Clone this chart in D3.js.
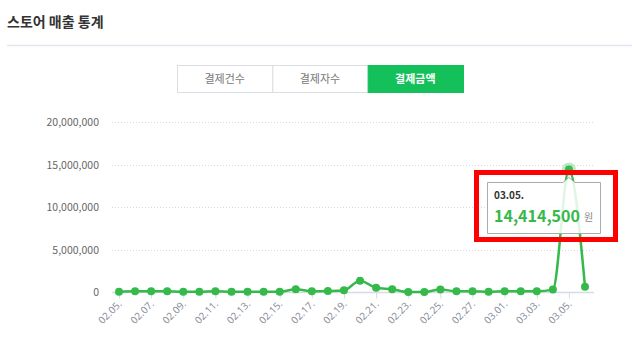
<!DOCTYPE html>
<html>
<head>
<meta charset="utf-8">
<script src="https://cdn.jsdelivr.net/npm/d3@7"></script>
<style>
  body { margin: 0; background: #fff; }
  svg { display: block; font-family: "Noto Sans CJK KR", "Noto Sans", sans-serif; }
</style>
</head>
<body>
<div id="chart"></div>
<script>
// data
var dates = ["02.05.","02.06.","02.07.","02.08.","02.09.","02.10.","02.11.","02.12.","02.13.","02.14.",
             "02.15.","02.16.","02.17.","02.18.","02.19.","02.20.","02.21.","02.22.","02.23.","02.24.",
             "02.25.","02.26.","02.27.","02.28.","03.01.","03.02.","03.03.","03.04.","03.05.","03.06."];
var amounts = [40000, 80000, 100000, 80000, 20000, 20000, 80000, 20000, 20000, 20000,
               20000, 320000, 80000, 110000, 200000, 1330000, 500000, 320000, 0, 10000,
               300000, 80000, 80000, 30000, 80000, 80000, 80000, 280000, 14414500, 620000];
var yTicks = [0, 5000000, 10000000, 15000000, 20000000];
var tabs = ["결제건수", "결제자수", "결제금액"];
var activeTab = 2;
var highlight = 28;

var W = 632, H = 352;
var green = "#35b94a";

var svg = d3.select("#chart").append("svg")
    .attr("width", W).attr("height", H);

// header
svg.append("text")
    .attr("x", 7).attr("y", 27)
    .attr("font-size", 14).attr("font-weight", "bold")
    .attr("fill", "#333")
    .text("스토어 매출 통계");
svg.append("line")
    .attr("x1", 7).attr("x2", W).attr("y1", 45.5).attr("y2", 45.5)
    .attr("stroke", "#e6e7ee").attr("stroke-width", 1.5);

// tab buttons
var tabX = d3.scaleBand().domain(tabs).range([177, 463]);
var tab = svg.append("g").selectAll("g")
    .data(tabs).enter().append("g");
tab.append("rect")
    .attr("x", function(d) { return tabX(d) + 0.5; })
    .attr("y", 65.5)
    .attr("width", tabX.bandwidth())
    .attr("height", 27)
    .attr("fill", function(d, i) { return i == activeTab ? "#14c05a" : "#fff"; })
    .attr("stroke", function(d, i) { return i == activeTab ? "#14c05a" : "#dcdde2"; });
tab.append("text")
    .attr("x", function(d) { return tabX(d) + tabX.bandwidth() / 2; })
    .attr("y", 83)
    .attr("text-anchor", "middle")
    .attr("font-size", 11)
    .attr("font-weight", function(d, i) { return i == activeTab ? "bold" : "normal"; })
    .attr("fill", function(d, i) { return i == activeTab ? "#fff" : "#777"; })
    .text(function(d) { return d; });

// scales
var x = d3.scalePoint().domain(dates).range([119, 585]);
var y = d3.scaleLinear().domain([0, 20000000]).range([292, 122]);

// grid
svg.append("g").selectAll("line")
    .data(yTicks.slice(1)).enter().append("line")
    .attr("x1", 112).attr("x2", 594)
    .attr("y1", function(d) { return Math.round(y(d)) + 0.5; })
    .attr("y2", function(d) { return Math.round(y(d)) + 0.5; })
    .attr("stroke", "#d6d8de")
    .attr("stroke-dasharray", "1,2");

// y labels
svg.append("g").selectAll("text")
    .data(yTicks).enter().append("text")
    .attr("x", 99)
    .attr("y", function(d) { return y(d) + 4; })
    .attr("text-anchor", "end")
    .attr("font-size", 10.5)
    .attr("fill", "#666")
    .text(function(d) { return d3.format(",")(d); });

// x axis
var xAxis = svg.append("g")
    .attr("transform", "translate(0," + (Math.round(y(0)) + 0.5) + ")")
    .call(d3.axisBottom(x)
        .tickValues(dates.filter(function(d, i) { return i % 2 == 0; }))
        .tickSize(6).tickSizeOuter(0));
xAxis.select(".domain").remove();
xAxis.insert("line", ":first-child")
    .attr("x1", 112).attr("x2", 594)
    .attr("stroke", "#d5dbe8").attr("stroke-width", 1.5);
xAxis.selectAll(".tick line").attr("stroke", "#d5dbe8");
xAxis.selectAll(".tick text")
    .attr("font-family", "Noto Sans, sans-serif")
    .attr("font-size", 10)
    .attr("fill", "#8a8f9a")
    .attr("text-anchor", "end")
    .attr("transform", "translate(3,12) rotate(-45)")
    .attr("dx", 0).attr("dy", 0)
    .attr("y", 0).attr("x", 0);

// line
var points = amounts.map(function(v, i) { return {date: dates[i], value: v, index: i}; });

var line = d3.line()
    .x(function(d) { return x(d.date); })
    .y(function(d) { return y(d.value); })
    .curve(d3.curveMonotoneX);

svg.append("path")
    .datum(points)
    .attr("d", line)
    .attr("fill", "none")
    .attr("stroke", green)
    .attr("stroke-width", 2.5);

svg.append("g").selectAll("circle")
    .data(points.filter(function(d) { return d.index != highlight; }))
    .enter().append("circle")
    .attr("cx", function(d) { return x(d.date); })
    .attr("cy", function(d) { return y(d.value); })
    .attr("r", 4)
    .attr("fill", green);

// highlighted point
var hp = points[highlight];
var hx = x(hp.date), hy = y(hp.value);
svg.append("circle").attr("cx", hx).attr("cy", hy).attr("r", 7)
    .attr("fill", green).attr("fill-opacity", 0.3);
svg.append("circle").attr("cx", hx).attr("cy", hy).attr("r", 4)
    .attr("fill", green);

// tooltip
var tip = svg.append("g");
tip.append("path")
    .attr("d", "M487.5,182.5 H" + (hx - 6) + " L" + hx + "," + (hy + 8) + " L" + (hx + 6) + ",182.5 H600.5 V233.5 H487.5 Z")
    .attr("fill", "#fff").attr("fill-opacity", 0.85)
    .attr("stroke", "#a9abb0");
tip.append("text")
    .attr("x", 494).attr("y", 199)
    .attr("font-size", 10).attr("font-weight", "bold")
    .attr("fill", "#333")
    .text(hp.date);
tip.append("text")
    .attr("x", 494).attr("y", 222)
    .attr("font-size", 16).attr("font-weight", "bold")
    .attr("fill", green)
    .text(d3.format(",")(hp.value));
tip.append("text")
    .attr("x", 584).attr("y", 221)
    .attr("font-size", 10)
    .attr("fill", "#888")
    .text("원");

// red annotation box
svg.append("rect")
    .attr("x", 476.5).attr("y", 172.5)
    .attr("width", 139).attr("height", 67)
    .attr("fill", "none")
    .attr("stroke", "#f00")
    .attr("stroke-width", 5);
</script>
</body>
</html>
